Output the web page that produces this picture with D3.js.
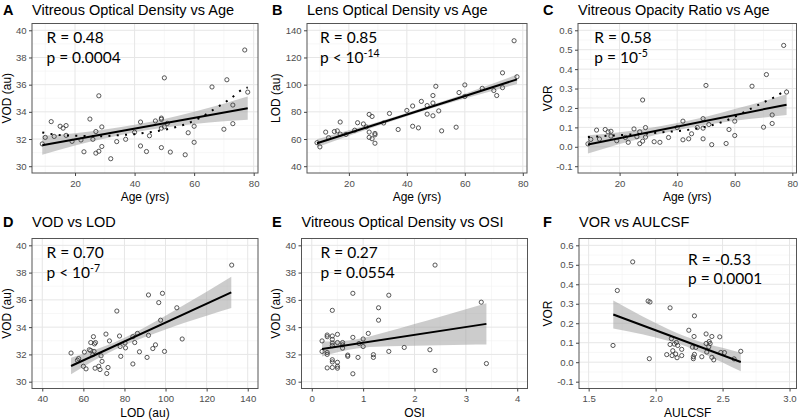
<!DOCTYPE html>
<html><head><meta charset="utf-8">
<script src="https://cdn.jsdelivr.net/npm/d3@7"></script>
<style>body{margin:0;background:#fff}svg{display:block}</style>
</head><body><svg id="c" width="799" height="420"></svg>
<script>
// ---------- DATA ----------
const ageA = [9,10,12,13,15,16,17,17,19,22,23,25,26,27,27,28,28,29,29,32,34,37,40,42,42,44,45,47,49,49,49,49,50,50,51,52,57,58,60,60,66,70,71,73,73,77,78];
const vodA = [31.64,32.12,33.28,32.19,32.94,32.8,32.99,32.27,31.83,31.93,31.06,33.47,31.98,32.55,30.96,31.1,35.18,32.89,31.45,30.55,31.81,31.98,32.5,33.25,31.49,31.08,32.24,33.33,33.45,33.54,31.37,32.8,36.5,32.9,33.15,31.04,30.84,32.46,32.94,31.76,35.83,32.72,36.36,34.5,33.13,38.55,35.45];

const ageB = [9,10,12,13,15,16,17,17,19,22,23,25,26,27,27,27,28,28,29,29,29,32,34,37,40,42,42,44,45,47,47,49,49,49,50,51,52,57,58,60,60,66,70,71,73,73,77,78];
const lodB = [57.3,54.2,65.1,61.0,65.5,66.0,72.5,63.6,63.4,66.5,72.0,71.1,68.9,78.1,65.1,61.2,76.6,60.2,64.1,63.1,56.9,71.8,78.8,67.0,81.0,84.3,69.4,68.2,87.7,84.6,78.3,92.0,86.5,77.1,98.8,80.7,66.0,68.7,94.2,99.8,91.3,97.3,95.7,92.0,108.7,97.8,132.3,105.8];

const ageC = [9,10,12,13,15,16,17,17,19,22,23,25,26,27,27,28,28,29,29,32,34,37,40,42,42,44,45,47,49,49,49,50,51,52,57,58,60,60,66,70,71,73,73,77,78];
const vorC = [0.015,0.038,0.086,0.04,0.089,0.077,0.08,0.055,0.031,0.048,0.023,0.092,0.052,0.077,0.016,0.029,0.241,0.099,0.05,0.026,0.023,0.048,0.099,0.132,0.036,0.041,0.067,0.099,0.145,0.096,0.041,0.316,0.115,0.011,0.017,0.089,0.132,0.058,0.312,0.101,0.372,0.164,0.12,0.522,0.282];

const lodD = [54.0,57.1,57.7,60.0,60.5,61.3,62.9,63.6,63.6,64.6,64.9,65.4,65.9,65.2,65.7,67.5,68.1,68.6,69.1,71.0,71.4,72.0,72.7,76.3,77.6,77.9,78.2,80.3,80.5,84.1,84.1,85.0,86.3,87.3,91.0,91.7,91.7,93.8,95.1,96.7,97.6,98.5,99.5,105.5,108.1,132.2];
const vodD = [32.1,31.57,31.69,31.13,32.17,30.94,32.34,32.87,32.29,31.98,33.3,32.77,32.87,32.22,30.99,31.13,30.89,31.9,31.49,33.49,30.6,31.04,32.99,35.18,33.35,32.58,31.86,32.84,32.48,33.3,31.3,32.87,33.54,32.19,31.78,36.36,33.4,32.43,32.7,35.8,34.51,36.48,32.22,35.42,33.13,38.55];

const osiE = [0.2,0.2,0.3,0.3,0.3,0.3,0.3,0.4,0.4,0.4,0.4,0.4,0.4,0.4,0.4,0.5,0.5,0.5,0.5,0.5,0.6,0.6,0.6,0.7,0.7,0.8,0.8,0.8,0.9,0.92,1.0,1.0,1.1,1.2,1.2,1.3,1.3,1.5,1.5,1.8,2.3,2.4,2.4,3.3,3.4];
const vodE = [32.99,32.22,33.42,33.3,32.14,32.0,31.01,35.23,33.35,33.1,32.84,32.65,31.61,31.45,31.04,33.47,32.87,31.42,31.13,30.99,32.87,32.7,32.46,31.95,31.86,36.48,33.25,30.58,31.78,32.8,33.13,32.58,33.54,31.98,31.78,35.42,34.51,36.34,32.22,32.51,32.34,38.55,30.82,35.83,31.33];

const aulcsfF = [1.682,1.714,1.829,1.944,1.958,1.953,2.083,2.108,2.108,2.118,2.123,2.128,2.14,2.15,2.155,2.165,2.16,2.195,2.195,2.248,2.275,2.282,2.287,2.29,2.29,2.282,2.3,2.345,2.377,2.377,2.382,2.397,2.4,2.407,2.42,2.42,2.434,2.479,2.487,2.514,2.586,2.636];
const vorF = [0.086,0.368,0.515,0.314,0.309,0.018,0.039,0.279,0.091,0.121,0.034,0.059,0.093,0.042,0.101,0.086,0.023,0.034,0.066,0.164,0.077,0.028,0.132,0.238,0.04,0.018,0.076,0.028,0.145,0.096,0.052,0.079,0.106,0.096,0.132,0.025,0.012,0.13,0.05,0.049,0.017,0.056];

// fitted lines: [x, y] ends
const fitA = [[9,31.54],[78,34.27]];
const fitB = [[9,56.9],[78,103.9]];
const fitC = [[9,0.012],[78,0.217]];
const fitD = [[54,31.15],[132,36.55]];
const fitE = [[0.2,32.39],[3.4,34.24]];
const fitF = [[1.684,0.245],[2.636,0.001]];

// confidence bands: [x, lower, upper]
const bandA = [[9,30.84,32.24],[20,31.53,32.43],[30,32.04,32.70],[40,32.49,33.05],[50,32.84,33.48],[60,33.11,34.01],[70,33.30,34.60],[78,33.42,35.12]];
const bandB = [[9,53.9,59.9],[20,62.4,66.4],[30,69.8,72.6],[40,76.8,79.2],[50,83.5,86.1],[60,89.8,93.4],[70,95.7,101.1],[78,100.4,107.4]];
const bandC = [[9,-0.035,0.059],[20,0.015,0.075],[30,0.052,0.096],[40,0.085,0.123],[50,0.113,0.155],[60,0.134,0.194],[70,0.151,0.235],[78,0.164,0.270]];
const bandD = [[54,30.55,31.75],[60,31.10,32.04],[70,31.94,32.58],[80,32.67,33.23],[90,33.28,34.00],[100,33.83,34.83],[110,34.35,35.71],[120,34.84,36.60],[132,35.40,37.70]];
const bandE = [[0.2,31.84,32.94],[0.5,32.16,32.96],[1.0,32.49,33.21],[1.5,32.59,33.69],[2.0,32.63,34.23],[2.5,32.67,34.77],[3.0,32.71,35.31],[3.4,32.72,35.76]];
const bandF = [[1.684,0.173,0.317],[1.8,0.157,0.273],[2.0,0.127,0.201],[2.2,0.088,0.138],[2.4,0.031,0.091],[2.5,-0.002,0.074],[2.636,-0.047,0.049]];

// dotted trend curves
const trendA = [[9,32.48],[14.5,32.3],[20,32.24],[28,32.2],[34,32.27],[40,32.36],[45,32.5],[52.5,32.8],[57.6,33.13],[62,33.57],[67.4,34.29],[72,34.94],[76.2,35.64],[78,35.8]];
const trendC = [[9,0.05],[12,0.053],[16,0.057],[20,0.06],[27,0.066],[35,0.075],[43,0.086],[50,0.104],[57,0.135],[62,0.169],[66.5,0.203],[70,0.229],[74.6,0.262],[78,0.295]];

// tick values
const ticksAge = [20,40,60,80];
const ticksVOD = [30,32,34,36,38,40];
const ticksLOD = [40,60,80,100,120,140];
const ticksVOR = [-0.1,0,0.1,0.2,0.3,0.4,0.5,0.6];
const ticksOSI = [0,1,2,3,4];
const ticksAULCSF = [1.5,2.0,2.5,3.0];

// titles and stats
const letters = ["A","B","C","D","E","F"];
const titles = ["Vitreous Optical Density vs Age","Lens Optical Density vs Age","Vitreous Opacity Ratio vs Age","VOD vs LOD","Vitreous Optical Density vs OSI","VOR vs AULCSF"];
const statR = ["R = 0.48","R = 0.85","R = 0.58","R = 0.70","R = 0.27","R = -0.53"];
const statP = [["p = 0.0004",""],["p < 10","-14"],["p = 10","-5"],["p < 10","-7"],["p = 0.0554",""],["p = 0.0001",""]];
const xLabels = ["Age (yrs)","Age (yrs)","Age (yrs)","LOD (au)","OSI","AULCSF"];
const yLabels = ["VOD (au)","LOD (au)","VOR","VOD (au)","VOD (au)","VOR"];

// ---------- LAYOUT ----------
const fmtInt = d => String(d);
const fmt1 = d => d3.format(".1f")(d).replace("\u2212","-");
const row1 = [23.5,173], row2 = [238.5,388.5];
const panels = [
 {xs:ageA, ys:vodA, fit:fitA, band:bandA, trend:trendA, px:[32,258], py:row1, xd:[5.55,81.45], yd:[29.5,40.5], xt:ticksAge, yt:ticksVOD, xf:fmtInt, yf:fmtInt, lx:3, ylx:10.5, ann:[46.5,43,63.3]},
 {xs:ageB, ys:lodB, fit:fitB, band:bandB, trend:null, px:[307,527], py:row1, xd:[5.55,81.45], yd:[35,145], xt:ticksAge, yt:ticksLOD, xf:fmtInt, yf:fmtInt, lx:272, ylx:279.5, ann:[320,43.3,63.3]},
 {xs:ageC, ys:vorC, fit:fitC, band:bandC, trend:trendC, px:[578,796.5], py:row1, xd:[5.55,81.45], yd:[-0.135,0.635], xt:ticksAge, yt:ticksVOR, xf:fmtInt, yf:fmt1, lx:543, ylx:552, ann:[594.3,42.7,63.3]},
 {xs:lodD, ys:vodD, fit:fitD, band:bandD, trend:null, px:[32,258], py:row2, xd:[35,145], yd:[29.5,40.5], xt:ticksLOD, yt:ticksVOD, xf:fmtInt, yf:fmtInt, lx:3, ylx:10.5, ann:[46.5,258.3,278.3]},
 {xs:osiE, ys:vodE, fit:fitE, band:bandE, trend:null, px:[301.5,527.5], py:row2, xd:[-0.2,4.2], yd:[29.5,40.5], xt:ticksOSI, yt:ticksVOD, xf:fmtInt, yf:fmtInt, lx:272, ylx:279.5, ann:[320.5,258.3,278.3]},
 {xs:aulcsfF, ys:vorF, fit:fitF, band:bandF, trend:null, px:[579,796.5], py:row2, xd:[1.428,3.052], yd:[-0.135,0.635], xt:ticksAULCSF, yt:ticksVOR, xf:fmt1, yf:fmt1, lx:543, ylx:552, ann:[688,265,284.3]}
];

const svg = d3.select("#c");
svg.append("rect").attr("width",799).attr("height",420).attr("fill","#fff");
const SANS = "'Liberation Sans', Arial, Helvetica, sans-serif";
const ANN = "Lato, 'Open Sans', sans-serif";

function minors(t, dom){
  const out=[];
  for(let i=0;i<t.length-1;i++) out.push((t[i]+t[i+1])/2);
  const st=t[1]-t[0];
  const lo=t[0]-st/2, hi=t[t.length-1]+st/2;
  if(lo>=Math.min(...dom)) out.push(lo);
  if(hi<=Math.max(...dom)) out.push(hi);
  return out;
}

panels.forEach((p,i)=>{
  const x = d3.scaleLinear().domain(p.xd).range(p.px);
  const y = d3.scaleLinear().domain(p.yd).range([p.py[1],p.py[0]]);
  const g = svg.append("g");
  const [x0,x1]=p.px,[y0,y1]=p.py;
  // grid
  const grid = g.append("g");
  minors(p.xt,p.xd).forEach(v=>grid.append("line").attr("x1",x(v)).attr("x2",x(v)).attr("y1",y0).attr("y2",y1).attr("stroke","#f2f2f2").attr("stroke-width",0.6));
  minors(p.yt,p.yd).forEach(v=>grid.append("line").attr("y1",y(v)).attr("y2",y(v)).attr("x1",x0).attr("x2",x1).attr("stroke","#f2f2f2").attr("stroke-width",0.6));
  p.xt.forEach(v=>grid.append("line").attr("x1",x(v)).attr("x2",x(v)).attr("y1",y0).attr("y2",y1).attr("stroke","#e6e6e6").attr("stroke-width",1));
  p.yt.forEach(v=>grid.append("line").attr("y1",y(v)).attr("y2",y(v)).attr("x1",x0).attr("x2",x1).attr("stroke","#e6e6e6").attr("stroke-width",1));
  // band
  const area = d3.area().x(d=>x(d[0])).y0(d=>y(d[1])).y1(d=>y(d[2])).curve(d3.curveMonotoneX);
  g.append("path").datum(p.band).attr("d",area).attr("fill","#999").attr("fill-opacity",0.5);
  // points
  g.append("g").selectAll("circle").data(p.xs.map((v,k)=>[v,p.ys[k]])).join("circle")
    .attr("cx",d=>x(d[0])).attr("cy",d=>y(d[1])).attr("r",2.1)
    .attr("fill","none").attr("stroke","#3a3a3a").attr("stroke-width",0.85);
  // trend dotted
  if(p.trend){
    const ln = d3.line().x(d=>x(d[0])).y(d=>y(d[1])).curve(d3.curveMonotoneX);
    g.append("path").datum(p.trend).attr("d",ln).attr("fill","none").attr("stroke","#000").attr("stroke-width",2).attr("stroke-dasharray","2 6.3");
  }
  // fit line
  const fl = d3.line().x(d=>x(d[0])).y(d=>y(d[1]));
  g.append("path").datum(p.fit).attr("d",fl).attr("fill","none").attr("stroke","#000").attr("stroke-width",2);
  // frame
  g.append("rect").attr("x",x0).attr("y",y0).attr("width",x1-x0).attr("height",y1-y0).attr("fill","none").attr("stroke","#555").attr("stroke-width",1);
  // axes
  const ax = g.append("g").attr("transform",`translate(0,${y1})`).call(d3.axisBottom(x).tickValues(p.xt).tickFormat(p.xf).tickSize(3).tickPadding(4));
  const ay = g.append("g").attr("transform",`translate(${x0},0)`).call(d3.axisLeft(y).tickValues(p.yt).tickFormat(p.yf).tickSize(3).tickPadding(2.3));
  [ax,ay].forEach(a=>{a.select(".domain").remove();a.selectAll("line").attr("stroke","#444");a.selectAll("text").attr("fill","#4d4d4d").style("font-family",SANS).style("font-size","9.6px");});
  // titles
  const tb = i<3?15:226.5;
  svg.append("text").attr("x",p.lx).attr("y",tb).text(letters[i]).style("font-family",SANS).style("font-weight","bold").style("font-size","14.5px");
  svg.append("text").attr("x",x0).attr("y",tb).text(titles[i]).style("font-family",SANS).style("font-size","14.5px");
  // axis labels
  svg.append("text").attr("x",(x0+x1)/2).attr("y",y1+28).attr("text-anchor","middle").text(xLabels[i]).style("font-family",SANS).style("font-size","12px");
  svg.append("text").attr("transform",`translate(${p.ylx},${(y0+y1)/2}) rotate(-90)`).attr("text-anchor","middle").text(yLabels[i]).style("font-family",SANS).style("font-size","12px");
  // stats
  svg.append("text").attr("x",p.ann[0]).attr("y",p.ann[1]).text(statR[i]).style("font-family",ANN).style("font-size","15.5px");
  const t = svg.append("text").attr("x",p.ann[0]).attr("y",p.ann[2]).style("font-family",ANN).style("font-size","15.5px");
  t.append("tspan").text(statP[i][0]);
  if(statP[i][1]) t.append("tspan").attr("dy",-6).style("font-size","10.5px").text(statP[i][1]);
});
</script></body></html>
